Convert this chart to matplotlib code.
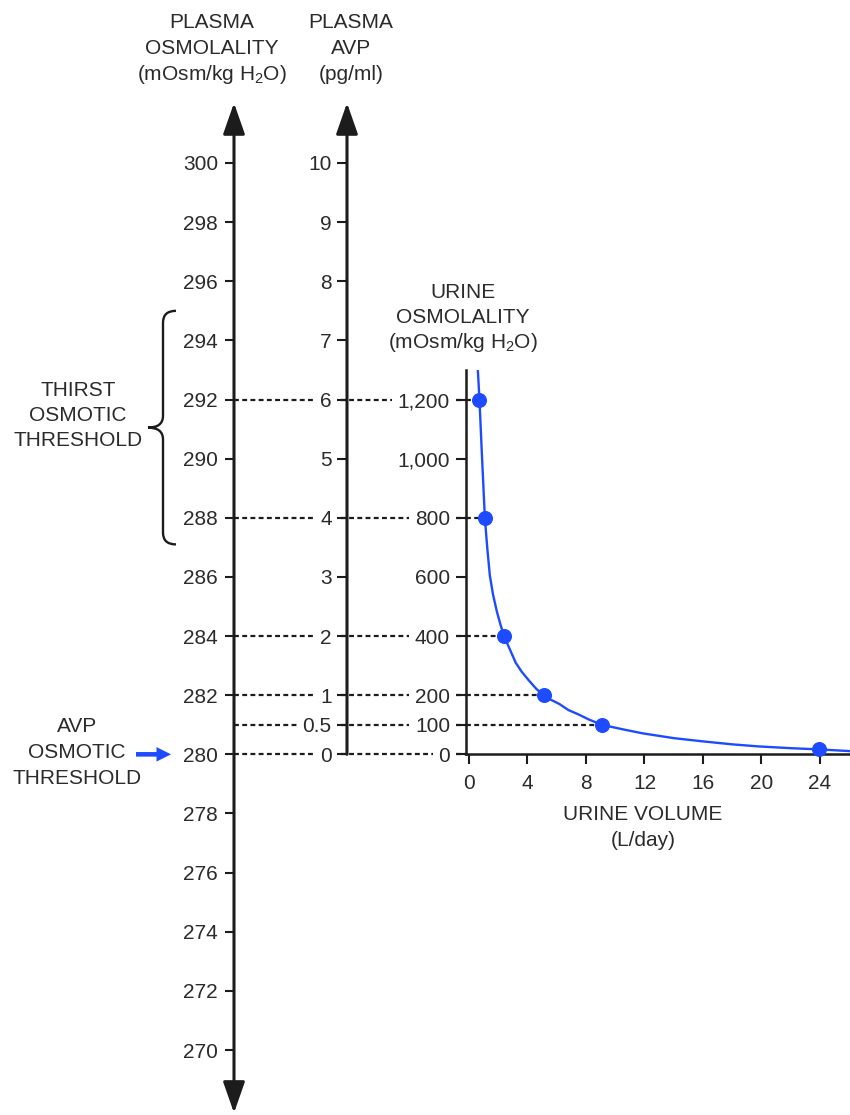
import matplotlib
matplotlib.use("Agg")
import matplotlib.pyplot as plt
from matplotlib.path import Path
from matplotlib.patches import PathPatch

FIG_W, FIG_H = 850, 1115
FS = 15
INK = "#1c1c1c"
TXT = "#2b2b2b"
BLUE = "#1d4bff"

# data
plasma_ticks = list(range(270, 301, 2))
avp_ticks = [0, 0.5, 1, 2, 3, 4, 5, 6, 7, 8, 9, 10]
avp_labels = ["0", "0.5", "1", "2", "3", "4", "5", "6", "7", "8", "9", "10"]
urine_osm_ticks = [0, 100, 200, 400, 600, 800, 1000, 1200]
urine_osm_labels = ["0", "100", "200", "400", "600", "800", "1,000", "1,200"]
urine_vol_ticks = [0, 4, 8, 12, 16, 20, 24]

link_plasma = [292, 288, 284, 282, 281, 280]
link_urine = [1200, 800, 400, 200, 100, 0]

point_vol = [0.72, 1.09, 2.4, 5.1, 9.1, 23.9]
point_osm = [1200, 800, 400, 200, 100, 17]

curve_vol = [0.61, 0.72, 0.9, 1.09, 1.25, 1.43, 1.65, 1.91, 2.15, 2.4, 2.8, 3.2,
             3.6, 4.1, 4.6, 5.1, 5.6, 6.2, 6.8, 7.5, 8.2, 9.1, 10.5, 11.9,
             14.0, 16.0, 18.0, 19.8, 22.0, 23.9, 26.1]
curve_osm = [1300, 1200, 1000, 800, 700, 605, 540, 483, 440, 400, 355, 310,
             280, 250, 222, 200, 185, 170, 150, 135, 118, 100, 85, 71,
             55, 44, 34, 27, 21, 17, 11]

thirst_range = (287.1, 295.0)
avp_threshold = 280


def fx(px):
    return px / FIG_W


def fy(py):
    return 1 - py / FIG_H


def text_lines(fig, x, y0, lines, step=25.5):
    for i, line in enumerate(lines):
        fig.text(fx(x), fy(y0 + i * step), line, ha="center", va="center",
                 fontsize=FS, color=TXT)


plt.rcParams.update({
    "font.family": ["Liberation Sans", "DejaVu Sans"],
    "mathtext.fontset": "custom",
    "mathtext.rm": "Liberation Sans",
    "mathtext.it": "Liberation Sans:italic",
    "mathtext.default": "regular",
})

fig = plt.figure(figsize=(FIG_W / 100, FIG_H / 100), dpi=100)

# plasma osmolality axis (x runs 0..1 from plasma axis to urine axis)
P_X0, P_X1 = 234, 466
ax_p = fig.add_axes([fx(P_X0), fy(1050), fx(P_X1) - fx(P_X0), fy(163) - fy(1050)])
ax_p.set_xlim(0, 1)
ax_p.set_ylim(270, 300)
ax_p.set_facecolor("none")
for s in ax_p.spines.values():
    s.set_visible(False)
ax_p.set_xticks([])
ax_p.set_yticks(plasma_ticks)
ax_p.tick_params(axis="y", direction="out", length=6.5, width=1.5, pad=5,
                 labelsize=FS, color=INK, labelcolor=TXT)

avp_x = (347 - P_X0) / (P_X1 - P_X0)
head = "head_length=0.6,head_width=0.21"
ax_p.annotate("", xy=(0, 302.03), xytext=(0, 267.87),
              arrowprops=dict(arrowstyle="<|-|>," + head, mutation_scale=32, lw=2.2,
                              color=INK, shrinkA=0, shrinkB=0),
              annotation_clip=False)
ax_p.annotate("", xy=(avp_x, 302.03), xytext=(avp_x, avp_threshold),
              arrowprops=dict(arrowstyle="-|>," + head, mutation_scale=32, lw=2.2,
                              color=INK, shrinkA=0, shrinkB=0),
              annotation_clip=False)

dash = (0, (2.2, 1.5))
for p in link_plasma:
    ax_p.plot([0, 1], [p, p], color=INK, lw=1.6, ls=dash)

# thirst brace
ytr = ax_p.get_yaxis_transform()
bx = lambda px: (px - P_X0) / (P_X1 - P_X0)
lo, hi = thirst_range
mid = (lo + hi) / 2
r = 0.4
verts = [
    (bx(176), hi), (bx(163), hi), (bx(163), hi - r),
    (bx(163), mid + r),
    (bx(163), mid), (bx(148), mid),
    (bx(163), mid), (bx(163), mid - r),
    (bx(163), lo + r),
    (bx(163), lo), (bx(176), lo),
]
codes = [Path.MOVETO, Path.CURVE3, Path.CURVE3, Path.LINETO,
         Path.CURVE3, Path.CURVE3, Path.CURVE3, Path.CURVE3,
         Path.LINETO, Path.CURVE3, Path.CURVE3]
ax_p.add_patch(PathPatch(Path(verts, codes), transform=ytr, fill=False,
                         lw=1.7, edgecolor=INK, clip_on=False))

# blue arrow to the AVP osmotic threshold
ax_p.annotate("", xy=(bx(171), avp_threshold), xytext=(bx(136), avp_threshold),
              xycoords=ytr, textcoords=ytr,
              arrowprops=dict(arrowstyle="simple,head_length=0.95,head_width=0.95,tail_width=0.3",
                              mutation_scale=11, color=BLUE, lw=0, shrinkA=0, shrinkB=0),
              annotation_clip=False)

# plasma AVP axis
ax_a = fig.add_axes([fx(347), fy(1050), 0.01, fy(163) - fy(1050)])
ax_a.set_ylim((270 - avp_threshold) / 2, (300 - avp_threshold) / 2)
ax_a.set_xlim(0, 1)
ax_a.set_facecolor("none")
for s in ax_a.spines.values():
    s.set_visible(False)
ax_a.set_xticks([])
ax_a.set_yticks(avp_ticks, labels=avp_labels)
ax_a.tick_params(axis="y", direction="out", length=8, width=1.5, pad=3,
                 labelsize=FS, color=INK, labelcolor=TXT)

# urine osmolality vs urine volume
ax_u = fig.add_axes([fx(466), fy(754.4), fx(850) - fx(466), fy(370) - fy(754.4)])
ax_u.set_ylim(0, 1300)
ax_u.set_xlim(-0.2, 26.05)
ax_u.set_facecolor("none")
ax_u.spines["top"].set_visible(False)
ax_u.spines["right"].set_visible(False)
for side in ["left", "bottom"]:
    ax_u.spines[side].set_linewidth(1.8)
    ax_u.spines[side].set_color(INK)
ax_u.set_yticks(urine_osm_ticks, labels=urine_osm_labels)
ax_u.set_xticks(urine_vol_ticks)
ax_u.tick_params(axis="y", direction="out", length=8.5, width=1.5, pad=3,
                 labelsize=FS, color=INK, labelcolor=TXT)
ax_u.tick_params(axis="x", direction="out", length=7, width=1.5, pad=7,
                 labelsize=FS, color=INK, labelcolor=TXT)

for vol, osm in zip(point_vol, point_osm):
    if osm in link_urine:
        ax_u.plot([-0.2, vol], [osm, osm], color=INK, lw=1.6, ls=dash)
ax_u.plot(curve_vol, curve_osm, color=BLUE, lw=1.7, zorder=3)
ax_u.plot(point_vol, point_osm, "o", ms=9.8, color=BLUE, clip_on=False, zorder=4)

for lbl in ax_a.get_yticklabels() + ax_u.get_yticklabels():
    lbl.set_bbox(dict(facecolor="white", edgecolor="none", pad=4))

# titles and annotations
text_lines(fig, 212, 23, ["PLASMA", "OSMOLALITY", "(mOsm/kg H$_2$O)"])
text_lines(fig, 351, 23, ["PLASMA", "AVP", "(pg/ml)"])
text_lines(fig, 463, 292, ["URINE", "OSMOLALITY", "(mOsm/kg H$_2$O)"])
text_lines(fig, 643, 815, ["URINE VOLUME", "(L/day)"])
text_lines(fig, 78, 390, ["THIRST", "OSMOTIC", "THRESHOLD"])
text_lines(fig, 77, 727, ["AVP", "OSMOTIC", "THRESHOLD"])

fig.savefig("out.png", dpi=100)
